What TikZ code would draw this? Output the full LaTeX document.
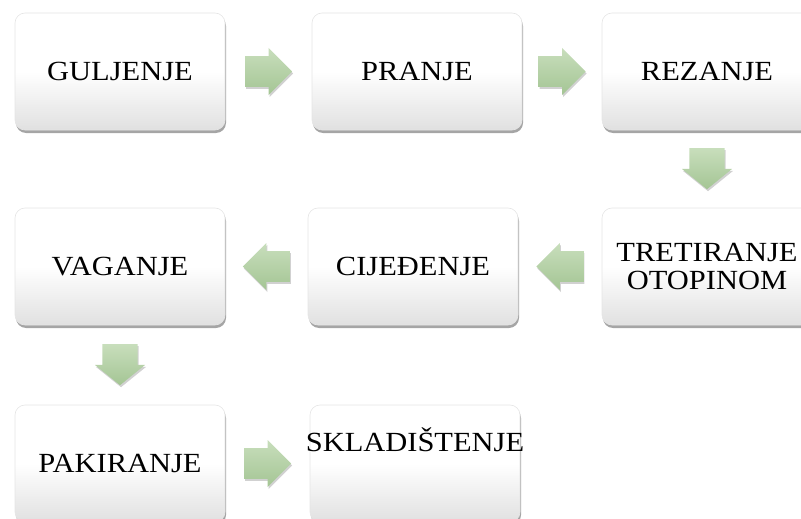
\documentclass[tikz,border=0pt]{standalone}
\usepackage{fontspec}
\setmainfont{Liberation Serif}
\newfontfamily\boxfont[FakeStretch=1.1]{Liberation Serif}
\usetikzlibrary{shadows,shapes.arrows,calc}
\definecolor{arrtop}{RGB}{200,222,188}
\definecolor{arrbot}{RGB}{164,197,148}
\tikzset{
  stepbox/.style={rectangle, rounded corners=10pt, minimum width=210pt, minimum height=117pt,
    top color=white, bottom color=black!12, middle color=white, shading angle=0,
    draw=black!10, line width=0.6pt, align=center, inner sep=0pt,
    font=\boxfont\fontsize{27.7}{27.6}\selectfont,
    drop shadow={shadow xshift=1pt, shadow yshift=-3pt, opacity=0.5, fill=black!70}},
  blockarrow/.style={single arrow, draw=none, inner sep=13pt,
    text height=0pt, text depth=0pt, text width=0pt, minimum height=47pt,
    minimum width=47pt, single arrow tip angle=90,
    single arrow head indent=0pt, top color=arrtop, bottom color=arrbot, anchor=tail,
    drop shadow={shadow xshift=1pt, shadow yshift=-2pt, opacity=0.3, fill=black!60}},
  downarrow/.style={blockarrow, shape border rotate=270, inner xsep=16.5pt, inner ysep=0pt,
    minimum height=41pt, minimum width=50pt, single arrow tip angle=102}
}
\begin{document}
\begin{tikzpicture}[x=1pt,y=-1pt]
\useasboundingbox (0,0) rectangle (801,519);
\node[stepbox] (g) at (120,71.5) {GULJENJE};
\node[stepbox] (p) at (417,71.5) {PRANJE};
\node[stepbox] (r) at (707,71.5) {REZANJE};
\node[stepbox] (t) at (707,266.5) {TRETIRANJE\\OTOPINOM};
\node[stepbox] (c) at (413,266.5) {CIJEĐENJE};
\node[stepbox] (v) at (120,266.5) {VAGANJE};
\node[stepbox] (k) at (120,463.5) {PAKIRANJE};
\node[stepbox] (s) at (415,463.5) {};
\node[font=\boxfont\fontsize{27.7}{27.6}\selectfont, inner sep=0pt] at ([yshift=23.5pt]s.center) {SKLADIŠTENJE};
\node[blockarrow, shape border rotate=0] at ($(g.east)!0.5!(p.west)+(-23.5,0)$) {};
\node[blockarrow, shape border rotate=0] at ($(p.east)!0.5!(r.west)+(-23.5,0)$) {};
\node[downarrow] at ($(r.south)!0.5!(t.north)+(0,-21)$) {};
\node[blockarrow, shape border rotate=180] at ($(t.west)!0.5!(c.east)+(23.5,0)$) {};
\node[blockarrow, shape border rotate=180] at ($(c.west)!0.5!(v.east)+(23.5,0)$) {};
\node[downarrow] at ($(v.south)!0.5!(k.north)+(0,-21)$) {};
\node[blockarrow, shape border rotate=0] at ($(k.east)!0.5!(s.west)+(-23.5,0)$) {};
\end{tikzpicture}
\end{document}
